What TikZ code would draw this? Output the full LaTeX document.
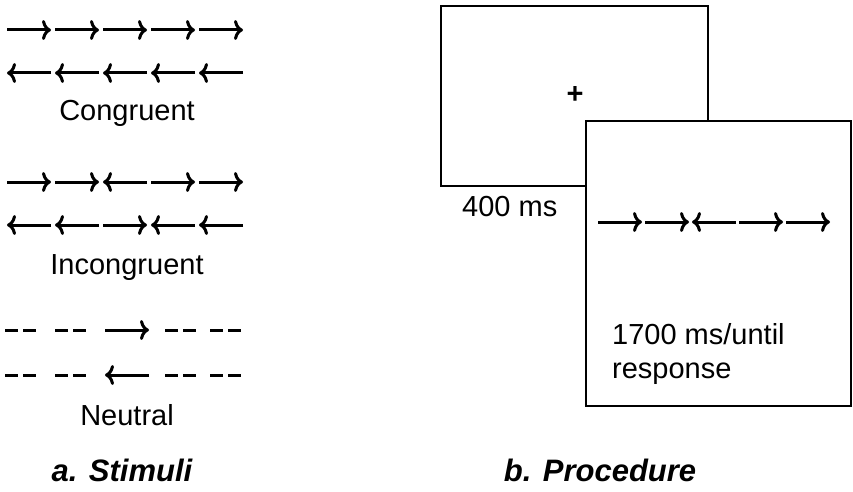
\documentclass[tikz,border=0pt]{standalone}
\usepackage{fontspec}
\setmainfont{Liberation Sans}
\usetikzlibrary{arrows.meta,positioning}
\tikzset{
    flank/.style={line width=3pt, -{To[length=9pt,width=20pt,line width=3pt]}},
    filler/.style={line width=3pt},
    label/.style={font=\fontsize{29}{34}\selectfont, inner sep=0pt},
    title/.style={font=\fontsize{31}{36}\selectfont\bfseries\itshape, inner sep=0pt},
    screen/.style={draw=black, line width=1.8pt, fill=white},
}
\begin{document}
\begin{tikzpicture}[x=1pt,y=-1pt]
    \useasboundingbox (0,0) rectangle (853,492);

    % stimuli rows: +1 right, -1 left
    \foreach \y/\dirs in {30/{1,1,1,1,1}, 73/{-1,-1,-1,-1,-1}, 182/{1,1,-1,1,1}, 225/{-1,-1,1,-1,-1}}
        \foreach \d [count=\i] in \dirs
            \draw[flank] ({29+48*(\i-1)-22*\d},\y) -- ({29+48*(\i-1)+22*\d},\y);
    \node[label] (cong)  at (127,113) {Congruent};
    \node[label] (incong) at (127,268) {Incongruent};

    % neutral rows
    \foreach \y/\d in {330/1, 375/-1} {
        \foreach \x in {5,55,165,210}
            {\draw[filler] (\x,\y) -- ++(13,0);
             \draw[filler] (\x+18,\y) -- ++(13,0);}
        \draw[flank] ({127-22*\d},\y) -- ({127+22*\d},\y);
    }
    \node[label] (neut) at (127,415) {Neutral};

    % procedure screens
    \node[screen, minimum width=267pt, minimum height=180pt, anchor=north west] (fix) at (440,5) {};
    \node[label] (plus) at (575,95) {\textbf{+}};
    \node[label, anchor=north west] (t1) at (462,196) {400 ms};
    \node[screen, minimum width=265pt, minimum height=285pt, anchor=north west] (target) at (585,120) {};
    \foreach \d [count=\i] in {1,1,-1,1,1}
        \draw[flank] ({620+47*(\i-1)-22*\d},222) -- ({620+47*(\i-1)+22*\d},222);
    \node[label, anchor=north west, align=left] (t2) at (612,323) {1700 ms/until\\response};

    \node[title] (capa) at (122,470) {a. Stimuli};
    \node[title] (capb) at (600,470) {b. Procedure};
\end{tikzpicture}
\end{document}
